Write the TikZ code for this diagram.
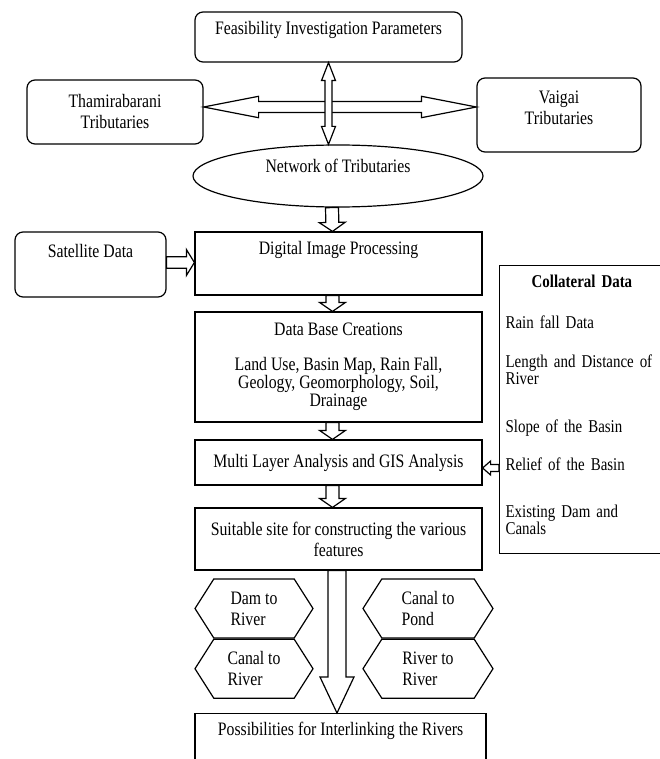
\documentclass[tikz,border=0pt]{standalone}
\usepackage{fontspec}
\setmainfont{Liberation Serif}[FakeStretch=0.83]
\usetikzlibrary{calc,positioning,shapes.geometric,shapes.symbols}

\tikzset{
  rbox/.style={draw, rounded corners=8pt, line width=1.2pt, align=center, inner sep=4pt},
  sbox/.style={draw, line width=1.2pt, align=center, inner sep=4pt, minimum width=287pt},
  hexbox/.style={draw, line width=1.2pt, signal, signal to=west and east,
    signal pointer angle=115, align=left, minimum height=59pt, inner sep=2pt},
  % hollow block arrow: shaft half width, head half width, head length
  harrow/.style n args={3}{draw, fill=white, line width=1.2pt, line join=miter,
    to path={let \p1=($(\tikztotarget)!#3!(\tikztostart)$) in
      -- ($(\tikztostart)!#1!90:(\tikztotarget)$)
      -- ($(\p1)!#1!-90:(\tikztostart)$)
      -- ($(\p1)!#2!-90:(\tikztostart)$)
      -- (\tikztotarget)
      -- ($(\p1)!#2!90:(\tikztostart)$)
      -- ($(\p1)!#1!90:(\tikztostart)$)
      -- ($(\tikztostart)!#1!-90:(\tikztotarget)$)
      -- cycle}},
  dharrow/.style n args={3}{draw, fill=white, line width=1.2pt, line join=miter,
    to path={let \p1=($(\tikztostart)!#3!(\tikztotarget)$),
                 \p2=($(\tikztotarget)!#3!(\tikztostart)$) in
      -- ($(\p1)!#2!90:(\tikztotarget)$)
      -- ($(\p1)!#1!90:(\tikztotarget)$)
      -- ($(\p2)!#1!-90:(\tikztostart)$)
      -- ($(\p2)!#2!-90:(\tikztostart)$)
      -- (\tikztotarget)
      -- ($(\p2)!#2!90:(\tikztostart)$)
      -- ($(\p2)!#1!90:(\tikztostart)$)
      -- ($(\p1)!#1!-90:(\tikztotarget)$)
      -- ($(\p1)!#2!-90:(\tikztotarget)$)
      -- cycle}},
}

\begin{document}
\begin{tikzpicture}[x=1pt,y=-1pt,font=\fontsize{19}{21}\selectfont]
  \path[use as bounding box, fill=white] (0,0) rectangle (659,759);

  % top part
  \node[rbox, minimum width=267pt, text height=19pt, text depth=23pt] (feas) at (328.5,37) {Feasibility Investigation Parameters};
  \node[rbox, minimum width=176pt, minimum height=64pt] (thami) at (115,112) {Thamirabarani\\Tributaries};
  \node[rbox, minimum width=164pt, minimum height=74pt] (vaigai) at (559,115) {Vaigai\\Tributaries\\[-7pt]\mbox{}};
  \node[ellipse, draw, line width=1.2pt, minimum width=290pt, minimum height=62pt, inner sep=0pt,
        text height=12pt, text depth=18pt] (netw) at (338,176) {Network of Tributaries};

  % main column
  \node[rbox, minimum width=151pt, text height=21pt, text depth=36pt] (sat) at (90.5,264.5) {Satellite Data};
  \node[sbox, text height=18pt, text depth=37pt] (dip) at (338.5,263.5) {Digital Image Processing};
  \node[sbox, minimum height=110pt, font=\fontsize{19}{18}\selectfont] (db) at (338.5,367)
    {Data Base Creations\\[17pt]Land Use, Basin Map, Rain Fall,\\Geology, Geomorphology, Soil,\\Drainage\\[-13pt]\mbox{}};
  \node[sbox, minimum height=45pt] (multi) at (338.5,462.5) {Multi Layer Analysis and GIS Analysis};
  \node[sbox, minimum height=62pt] (suit) at (338.5,539) {Suitable site for constructing the various\\features};
  \node[sbox, minimum width=291pt, text height=18pt, text depth=25pt, anchor=north] (poss) at (340.5,713) {Possibilities for Interlinking the Rivers};

  \node[draw, line width=1.2pt, anchor=north west, text width=170pt, align=left, inner xsep=6pt, inner ysep=0pt,
        font=\fontsize{18}{17}\selectfont] (coll) at (499,265)
    {\rule{0pt}{22pt}\hspace*{26pt}\textbf{Collateral Data}\\[24pt]
     Rain fall Data\\[22pt]
     Length and Distance of\\
     River\\[31pt]
     Slope of the Basin\\[21pt]
     Relief of the Basin\\[30pt]
     Existing Dam and\\
     Canals\\[2pt]\mbox{}};

  % link types
  \node[hexbox, minimum width=118pt] (dam) at (254,608.5) {Dam to\\River};
  \node[hexbox, minimum width=118pt, below=0pt of dam] (canriv) {Canal to\\River};
  \node[hexbox, minimum width=130pt] (canpond) at (428,608.5) {Canal to\\Pond};
  \node[hexbox, minimum width=130pt, below=0pt of canpond] (rivriv) {River to\\River};

  % arrows
  \coordinate (hl) at ([yshift=5pt]thami.east);
  \coordinate (hr) at (hl -| vaigai.west);
  \draw[dharrow={5.5pt}{10.7pt}{55pt}] (hl) to (hr);
  \draw[dharrow={3.5pt}{7pt}{18pt}] (feas.south) to (feas.south |- netw.north);
  \draw[harrow={6.5pt}{13pt}{9pt}] ([xshift=-6pt]netw.south) to ([xshift=-6pt]dip.north);
  \coordinate (sa) at ([yshift=2pt]sat.east);
  \draw[harrow={5.8pt}{13pt}{8pt}] (sa) to (sa -| dip.west);
  \draw[harrow={6.5pt}{13pt}{9pt}] ([xshift=-6pt]dip.south) to ([xshift=-6pt]db.north);
  \draw[harrow={6.5pt}{13pt}{9pt}] ([xshift=-6pt]db.south) to ([xshift=-6pt]multi.north);
  \draw[harrow={6.5pt}{13pt}{9pt}] ([xshift=-6pt]multi.south) to ([xshift=-6pt]suit.north);
  \coordinate (ma) at ([yshift=-5.5pt]multi.east);
  \draw[harrow={3.5pt}{7pt}{8pt}] (coll.west |- ma) to (ma);
  \draw[harrow={9pt}{17pt}{36pt}] ([xshift=-1.5pt]suit.south) to ([xshift=-1.5pt]suit.south |- poss.north);
\end{tikzpicture}
\end{document}
